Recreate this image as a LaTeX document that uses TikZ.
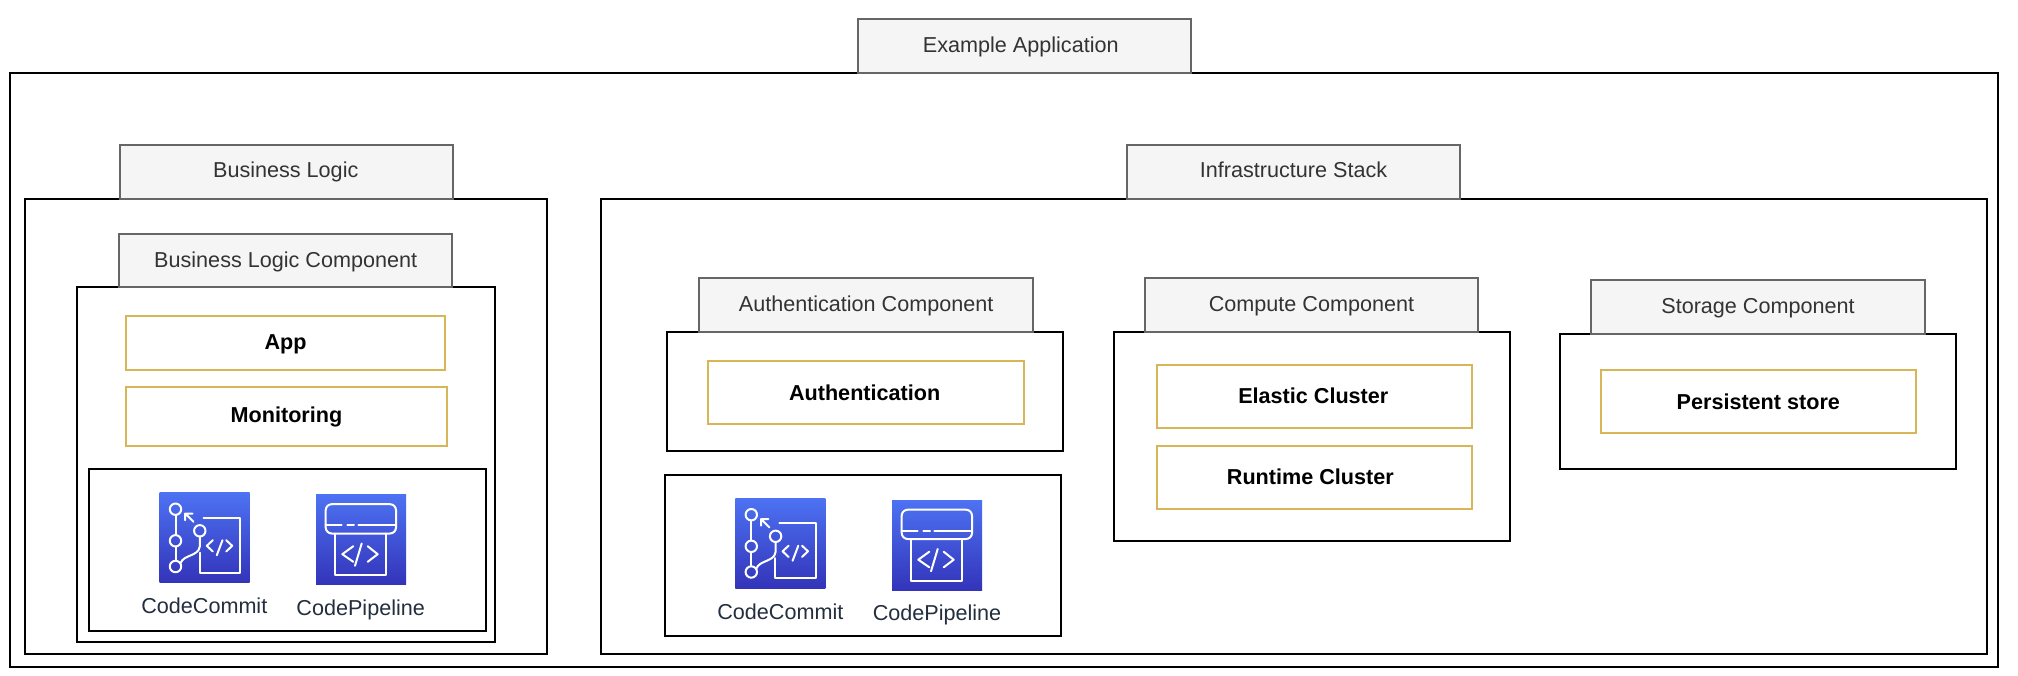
\documentclass[tikz,border=0pt]{standalone}
\usepackage{fontspec}
\setmainfont{Liberation Sans}
\definecolor{tabfill}{HTML}{F5F5F5}
\definecolor{tabline}{HTML}{666666}
\definecolor{tabtext}{HTML}{333333}
\definecolor{gold}{HTML}{D6B656}
\definecolor{awsink}{HTML}{232F3E}
\definecolor{icontop}{HTML}{4D72F3}
\definecolor{iconbot}{HTML}{3334B9}
\tikzset{
  box/.style={draw=black,line width=2pt,fill=white},
  tabbox/.style={draw=tabline,line width=2pt,fill=tabfill,text=tabtext,text height=18pt,text depth=6pt,font=\fontsize{21.6}{26}\selectfont},
  item/.style={draw=gold,line width=2pt,fill=white,text=black,text height=18pt,text depth=6pt,font=\fontsize{21.6}{26}\selectfont\bfseries},
  iconbase/.style={top color=icontop,bottom color=iconbot,draw=none,minimum width=90pt,minimum height=90pt,inner sep=0pt,outer sep=0pt},
  iconlabel/.style={text=awsink,text height=16pt,text depth=6pt,font=\fontsize{21.6}{26}\selectfont,inner sep=0pt},
  glyph/.style={draw=white,line width=2pt,line cap=round,line join=round},
}
\newcommand{\rbox}[7]{%
  \pgfmathsetmacro{\rcx}{(#2+#4)/2}%
  \pgfmathsetmacro{\rcy}{(#3+#5)/2}%
  \pgfmathsetmacro{\rw}{#4-#2}%
  \pgfmathsetmacro{\rh}{#5-#3}%
  \node[#6,minimum width=\rw pt,minimum height=\rh pt,inner sep=0pt,outer sep=0pt] (#1) at (\rcx,\rcy) {#7};%
}
\newcommand{\commitglyph}[1]{%
  \begin{scope}[shift={(#1.north west)}]
    \draw[glyph] (16,16.7) circle (5.7) (16,48.3) circle (5.7) (16,74) circle (5.7) (40.3,38.3) circle (5.7);
    \draw[glyph] (16,22.4) -- (16,42.6) (16,54) -- (16,68.3);
    \draw[glyph] (21,70.7) .. controls (24,62) and (39,64) .. (40.3,54) -- (40.3,44);
    \draw[glyph] (34,29.3) -- (25.7,21) (25.7,27.7) -- (25.7,21) -- (33,21);
    \draw[glyph] (44,25) -- (80.7,25) -- (80.7,80) -- (40,80) -- (40,60);
    \draw[glyph] (53.3,47.7) -- (47.3,53.3) -- (53.3,59) (63,47.7) -- (57.3,62.7) (66.7,47.7) -- (72.7,53.3) -- (66.7,59);
  \end{scope}%
}
\newcommand{\pipeglyph}[1]{%
  \begin{scope}[shift={(#1.north west)}]
    \draw[glyph,rounded corners=6pt] (9.7,9.7) rectangle (80,39);
    \draw[glyph] (9.7,30.7) -- (25.7,30.7) (31.3,30.7) -- (38,30.7) (42.3,30.7) -- (80,30.7);
    \draw[glyph] (19,39) -- (19,80.7) -- (69.7,80.7) -- (69.7,39);
    \draw[glyph] (37.3,51.7) -- (26.3,59.7) -- (37.3,67.3) (51.7,51.7) -- (61.7,59.7) -- (51.7,67.3) (45.7,49) -- (39,71.3);
  \end{scope}%
}
\begin{document}
\begin{tikzpicture}[x=1pt,y=-1pt]
\useasboundingbox (0,0) rectangle (2018,676);
\fill[white] (0,0) rectangle (2018,676);
% outer
\rbox{outer}{10}{73}{1998}{667}{box}{}
\rbox{exampletab}{858}{19}{1191}{73}{tabbox,text height=20pt}{\kern-7.4pt Example Application}
% business logic
\rbox{blbox}{24.5}{199}{547}{654.3}{box}{}
\rbox{bltab}{120}{145}{453}{199}{tabbox}{\kern-1.5pt Business Logic}
\rbox{blcbox}{77}{287.5}{494.5}{641.7}{box}{}
\rbox{blctab}{119}{234}{452.4}{287.5}{tabbox,text height=20pt}{Business Logic Component}
\rbox{app}{126.3}{316}{444.7}{370}{item}{App}
\rbox{monitoring}{126.3}{387.3}{446.6}{445.7}{item}{Monitoring}
\rbox{iconsa}{89}{469}{485.7}{631.3}{box}{}
\node[iconbase] (cca) at (204.5,537.5) {};
\commitglyph{cca}
\node[iconbase] (cpa) at (361,539.5) {};
\pipeglyph{cpa}
\node[iconlabel] (ccla) at (204.3,608.3) {CodeCommit};
\node[iconlabel] (cpla) at (360.7,610.3) {CodePipeline};
% infrastructure
\rbox{infbox}{601}{199}{1986.5}{654.3}{box}{}
\rbox{inftab}{1126.7}{145}{1460.4}{199}{tabbox}{Infrastructure Stack}
% authentication
\rbox{authbox}{667}{332}{1063.3}{451.3}{box}{}
\rbox{authtab}{699.3}{278.3}{1033}{332}{tabbox}{Authentication Component}
\rbox{auth}{708.3}{361}{1024}{424}{item,text height=22pt}{\kern-3pt Authentication}
\rbox{iconsb}{665}{474.7}{1061.3}{636.3}{box}{}
\node[iconbase] (ccb) at (780.3,543) {};
\commitglyph{ccb}
\node[iconbase] (cpb) at (937,545) {};
\pipeglyph{cpb}
\node[iconlabel] (cclb) at (780.3,614) {CodeCommit};
\node[iconlabel] (cplb) at (937,615.6) {CodePipeline};
% compute
\rbox{compbox}{1113.7}{332}{1509.5}{541.3}{box}{}
\rbox{comptab}{1145}{278}{1478}{332}{tabbox}{Compute Component}
\rbox{elastic}{1156.9}{364.7}{1471.7}{427.7}{item,text height=20pt}{\kern-2pt Elastic Cluster}
\rbox{runtime}{1156.9}{445.7}{1471.7}{508.7}{item,text height=20pt}{\kern-8pt Runtime Cluster}
% storage
\rbox{storbox}{1559.8}{334}{1956}{469}{box}{}
\rbox{stortab}{1591}{280}{1925}{334}{tabbox}{Storage Component}
\rbox{persist}{1600.6}{370}{1916}{433}{item,text height=22pt}{Persistent store}
\end{tikzpicture}
\end{document}
